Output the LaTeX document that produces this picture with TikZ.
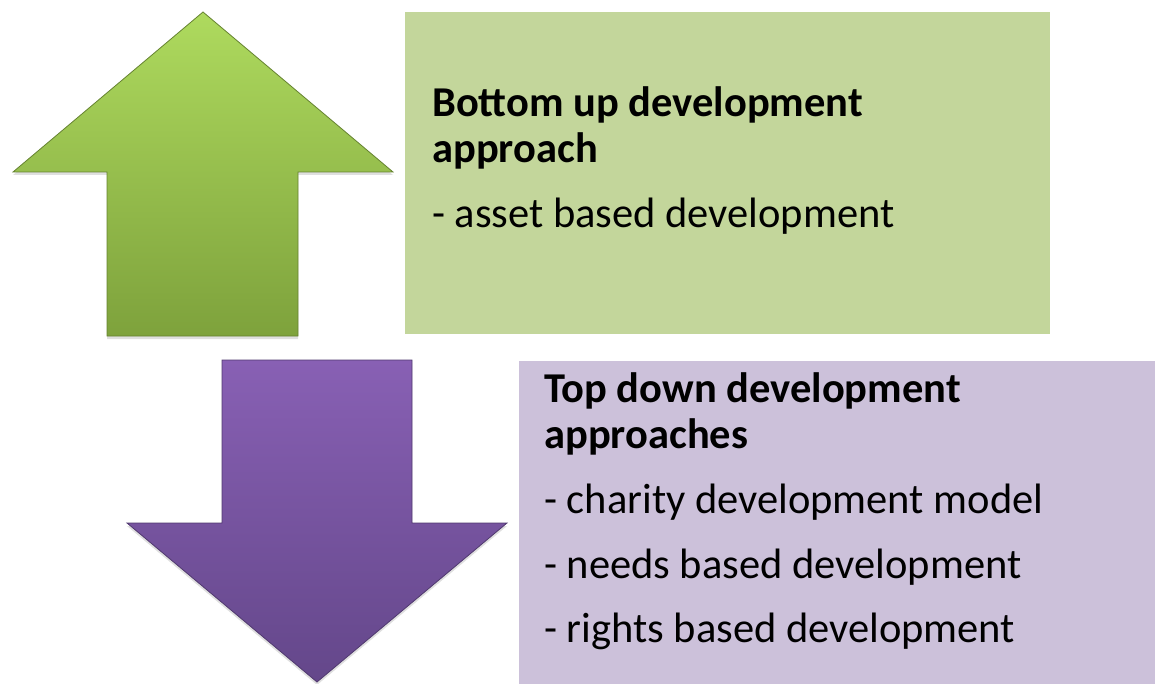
\documentclass[tikz,border=0pt]{standalone}
\usepackage{fontspec}
\setmainfont{Carlito}
\usetikzlibrary{shadows}
\definecolor{boxgreen}{RGB}{195,214,155}
\definecolor{boxpurple}{RGB}{204,193,218}
\definecolor{arrgreentop}{RGB}{174,218,94}
\definecolor{arrgreenbot}{RGB}{126,162,60}
\definecolor{arrpurpletop}{RGB}{136,96,180}
\definecolor{arrpurplebot}{RGB}{100,71,138}
\begin{document}
\begin{tikzpicture}[x=1pt, y=-1pt,
   arrowshape/.style={line width=0.8pt, line join=miter,
      drop shadow={opacity=0.25, shadow xshift=0pt, shadow yshift=-3pt}},
   every node/.style={inner sep=0pt, anchor=base west, text=black},
   heading/.style={font=\fontsize{42.5}{50}\selectfont\bfseries},
   item/.style={font=\fontsize{42.5}{50}\selectfont}]

\useasboundingbox (0,0) rectangle (1155,684);

\fill[boxgreen] (405,12) rectangle (1050,334);
\fill[boxpurple] (519,361) rectangle (1155,684);

\draw[arrowshape, draw=arrgreenbot!80!black, top color=arrgreentop, bottom color=arrgreenbot]
   (203,12) -- (393,172) -- (298,172) -- (298,336) -- (107,336) -- (107,172) -- (13,172) -- cycle;
\draw[arrowshape, draw=arrpurplebot!80!black, top color=arrpurpletop, bottom color=arrpurplebot]
   (222,360) -- (412,360) -- (412,523) -- (507,523) -- (317,682) -- (127,523) -- (222,523) -- cycle;

\node[heading] (bu1) at (432,117) {Bottom up development};
\node[heading] (bu2) at (432,163) {approach};
\node[item] (bu3) at (432,228) {- asset based development};

\node[heading] (td1) at (544,402) {Top down development};
\node[heading] (td2) at (544,448) {approaches};
\node[item] (td3) at (544,513) {- charity development model};
\node[item] (td4) at (544,578) {- needs based development};
\node[item] (td5) at (544,642) {- rights based development};

\end{tikzpicture}
\end{document}
